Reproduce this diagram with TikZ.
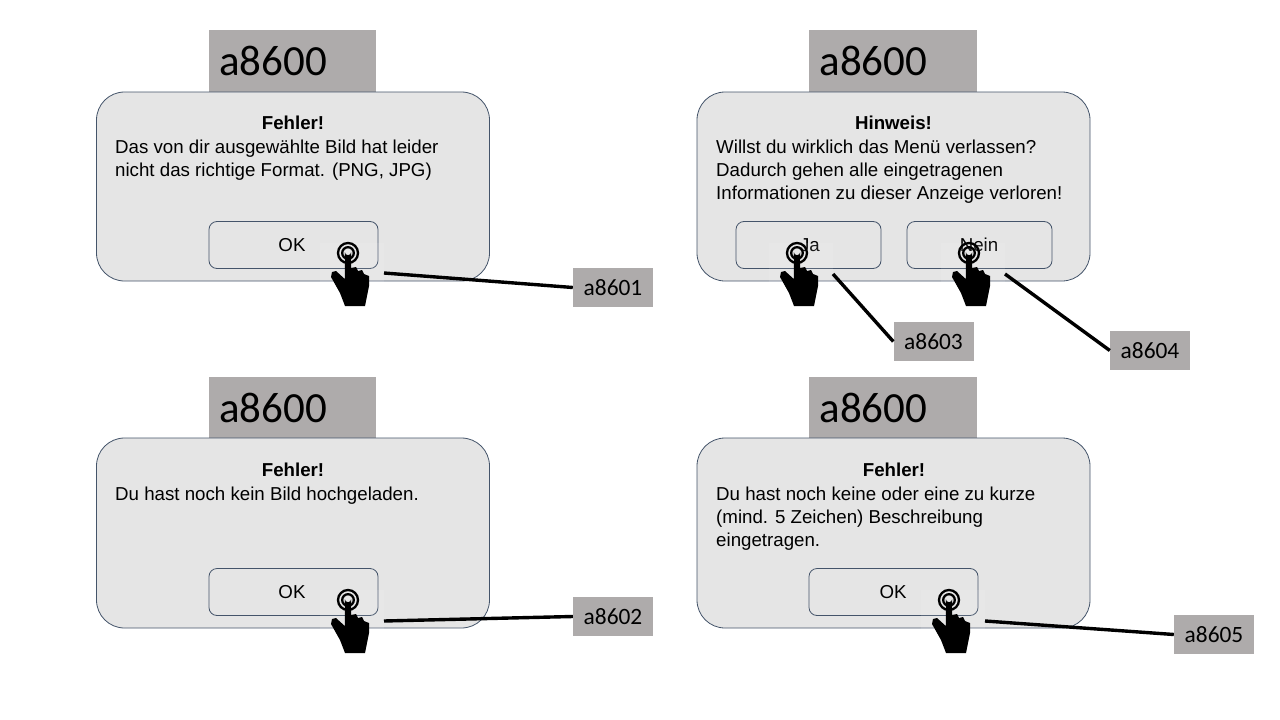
\documentclass[tikz,border=0pt]{standalone}
\usepackage{fontspec}
\setmainfont{Liberation Sans}
\newfontfamily\labelfont{Carlito}
\definecolor{tagGray}{HTML}{AEABAB}
\definecolor{panelGray}{HTML}{E5E5E5}
\definecolor{edgeBlue}{HTML}{44546A}
\tikzset{
  panel/.style={draw=edgeBlue, fill=panelGray, line width=0.8pt, rounded corners=28pt, minimum width=393pt, minimum height=#1, inner sep=0pt},
  button/.style={draw=edgeBlue, line width=0.8pt, rounded corners=8pt, minimum height=47pt, minimum width=#1, inner sep=0pt},
  header/.style={fill=tagGray, minimum width=167pt, minimum height=62pt, inner sep=0pt, text width=147pt, font=\labelfont\fontsize{43}{43}\selectfont, align=left},
  tag/.style={fill=tagGray, minimum width=80pt, minimum height=39pt, inner sep=0pt, font=\labelfont\fontsize{23.4}{23.4}\selectfont},
  title/.style={font=\fontsize{18.7}{22}\selectfont\bfseries, inner sep=0pt},
  body/.style={font=\fontsize{18.7}{22.8}\selectfont, align=left, inner sep=0pt, anchor=north west},
  caption/.style={font=\fontsize{18.7}{22}\selectfont, inner sep=0pt},
  leader/.style={line width=3.4pt}
}
\begin{document}
\begin{tikzpicture}[x=1pt, y=-1pt]
  \useasboundingbox (0,0) rectangle (1280,720);
  % top left dialog
  \node[header] (head1) at (292.5,61) {a8600};
  \node[panel=189pt] (panel1) at (293,186.5) {};
  \node[title] (title1) at (293,123) {Fehler!};
  \node[body] (body1) at (115,140) {Das von dir ausgewählte Bild hat leider\\nicht das richtige Format. (PNG, JPG)};
  \node[button=169pt] (ok1) at (293.5,245) {};
  \node[caption] (oktext1) at (292,245) {OK};
  % top right dialog
  \node[header, minimum width=168pt] (head2) at (893,61) {a8600};
  \node[panel=189pt] (panel2) at (893.5,186.5) {};
  \node[title] (title2) at (893.5,123) {Hinweis!};
  \node[body] (body2) at (716,140) {Willst du wirklich das Menü verlassen?\\Dadurch gehen alle eingetragenen\\Informationen zu dieser Anzeige verloren!};
  \node[button=145pt] (yes) at (808.5,245) {};
  \node[caption] (yestext) at (810,245) {Ja};
  \node[button=145pt] (no) at (979.5,245) {};
  \node[caption] (notext) at (979,245) {Nein};
  % bottom left dialog
  \node[header] (head3) at (292.5,407.5) {a8600};
  \node[panel=190pt] (panel3) at (293,533) {};
  \node[title] (title3) at (293,470) {Fehler!};
  \node[body] (body3) at (115,487) {Du hast noch kein Bild hochgeladen.};
  \node[button=169pt] (ok3) at (293.5,592) {};
  \node[caption] (oktext3) at (292,592) {OK};
  % bottom right dialog
  \node[header, minimum width=168pt] (head4) at (893,407.5) {a8600};
  \node[panel=190pt] (panel4) at (893.5,533) {};
  \node[title] (title4) at (894,470) {Fehler!};
  \node[body] (body4) at (716,487) {Du hast noch keine oder eine zu kurze\\(mind. 5 Zeichen) Beschreibung\\eingetragen.};
  \node[button=169pt] (ok4) at (893.5,592) {};
  \node[caption] (oktext4) at (893,592) {OK};
  % touch hands
  \foreach \x/\y in {348/253, 797/253, 969/253, 348/600, 949/600} {
    \fill[white, opacity=0.1] (\x-28,\y-10) rectangle (\x+36,\y+53);
    \draw[line width=2.3pt] (\x,\y) circle [radius=10];
    \draw[line width=2.3pt] (\x,\y) circle [radius=5.8];
    \fill (\x-3.2,\y-1) arc (180:0:3.2) -- (\x+3.2,\y+15) -- (\x+8,\y+14) -- (\x+10,\y+18) -- (\x+14,\y+17) -- (\x+16,\y+21) -- (\x+21,\y+23) -- (\x+21,\y+33) -- (\x+17,\y+53) -- (\x-3,\y+53) -- (\x-8,\y+40) -- (\x-17,\y+24) -- (\x-16,\y+19) -- (\x-12,\y+18) -- (\x-3.2,\y+26) -- cycle;
  }
  % labels and leader lines
  \node[tag] (tag1) at (613,287.5) {a8601};
  \node[tag] (tag2) at (613,616.5) {a8602};
  \node[tag] (tag3) at (933.5,341.5) {a8603};
  \node[tag] (tag4) at (1150,350.5) {a8604};
  \node[tag] (tag5) at (1214,634.5) {a8605};
  \coordinate (hand1) at (384,273);
  \coordinate (hand2) at (384,621);
  \coordinate (hand3) at (833,274);
  \coordinate (hand4) at (1005,274);
  \coordinate (hand5) at (985,621);
  \draw[leader] (hand1) -- (tag1.west);
  \draw[leader] (hand2) -- (tag2.west);
  \draw[leader] (hand3) -- (tag3.west);
  \draw[leader] (hand4) -- (tag4.west);
  \draw[leader] (hand5) -- (tag5.west);
\end{tikzpicture}
\end{document}
